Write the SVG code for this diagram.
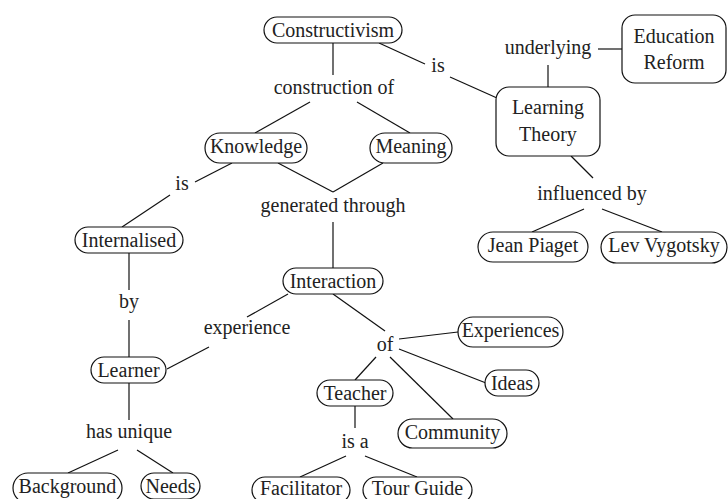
<svg xmlns="http://www.w3.org/2000/svg" width="728" height="499" viewBox="0 0 728 499">
<style>
text{font-family:"Liberation Serif","DejaVu Serif","Times New Roman",serif;font-size:20px;fill:#222;text-anchor:middle}
.pill{fill:#fff;stroke:#111;stroke-width:1.2}
.box{fill:#fff;stroke:#111;stroke-width:1.2}
#connectors line{stroke:#111;stroke-width:1.2}
</style>
<rect width="728" height="499" fill="#fff"/>
<g id="connectors">
<line x1="333" y1="43" x2="333" y2="75"/>
<line x1="379" y1="43" x2="425" y2="64"/>
<line x1="450" y1="77" x2="497" y2="98"/>
<line x1="598" y1="49" x2="622" y2="49"/>
<line x1="548" y1="65" x2="548" y2="87"/>
<line x1="571" y1="156" x2="593" y2="178"/>
<line x1="584" y1="209" x2="532" y2="232"/>
<line x1="602" y1="209" x2="662" y2="232"/>
<line x1="310" y1="102" x2="255" y2="133"/>
<line x1="357" y1="102" x2="410" y2="133"/>
<line x1="278" y1="163" x2="333" y2="192"/>
<line x1="383" y1="163" x2="333" y2="192"/>
<line x1="232" y1="163" x2="195" y2="182"/>
<line x1="170" y1="195" x2="122" y2="227"/>
<line x1="333" y1="222" x2="333" y2="268"/>
<line x1="288" y1="294" x2="247" y2="317"/>
<line x1="209" y1="347" x2="167" y2="369"/>
<line x1="333" y1="294" x2="385" y2="331"/>
<line x1="399" y1="339" x2="458" y2="332"/>
<line x1="399" y1="349" x2="486" y2="383"/>
<line x1="376" y1="357" x2="355" y2="380"/>
<line x1="390" y1="357" x2="453" y2="419"/>
<line x1="355" y1="406" x2="355" y2="428"/>
<line x1="346" y1="456" x2="300" y2="477"/>
<line x1="365" y1="456" x2="417" y2="477"/>
<line x1="129" y1="253" x2="129" y2="290"/>
<line x1="129" y1="320" x2="129" y2="357"/>
<line x1="129" y1="383" x2="129" y2="420"/>
<line x1="118" y1="450" x2="68" y2="473"/>
<line x1="137" y1="450" x2="173" y2="473"/>
</g>
<g id="labels">
<text x="334" y="94">construction of</text>
<text x="438" y="72">is</text>
<text x="548" y="54">underlying</text>
<text x="592" y="200">influenced by</text>
<text x="182" y="190">is</text>
<text x="333" y="212">generated through</text>
<text x="129" y="308">by</text>
<text x="247" y="334">experience</text>
<text x="385" y="351">of</text>
<text x="129" y="438">has unique</text>
<text x="355" y="448">is a</text>
</g>
<g id="constructivism"><rect class="pill" x="264" y="17" width="138" height="26" rx="13"/><text x="333" y="37">Constructivism</text></g>
<g id="education-reform"><rect class="box" x="622" y="15" width="104" height="68" rx="13"/><text x="674" y="43">Education</text><text x="674" y="69">Reform</text></g>
<g id="learning-theory"><rect class="box" x="496" y="87" width="104" height="69" rx="13"/><text x="548" y="114">Learning</text><text x="548" y="141">Theory</text></g>
<g id="knowledge"><rect class="pill" x="205" y="133" width="102" height="30" rx="15"/><text x="256" y="153">Knowledge</text></g>
<g id="meaning"><rect class="pill" x="370" y="133" width="82" height="30" rx="15"/><text x="411" y="153">Meaning</text></g>
<g id="jean-piaget"><rect class="pill" x="478" y="232" width="110" height="30" rx="15"/><text x="533" y="252">Jean Piaget</text></g>
<g id="lev-vygotsky"><rect class="pill" x="601" y="232" width="126" height="31" rx="15.5"/><text x="664" y="252">Lev Vygotsky</text></g>
<g id="internalised"><rect class="pill" x="75" y="227" width="108" height="26" rx="13"/><text x="129" y="247">Internalised</text></g>
<g id="interaction"><rect class="pill" x="283" y="268" width="100" height="26" rx="13"/><text x="333" y="288">Interaction</text></g>
<g id="learner"><rect class="pill" x="91" y="357" width="75" height="26" rx="13"/><text x="128.5" y="377">Learner</text></g>
<g id="experiences"><rect class="pill" x="458" y="317" width="105" height="30" rx="15"/><text x="510.5" y="337">Experiences</text></g>
<g id="ideas"><rect class="pill" x="485" y="370" width="54" height="26" rx="13"/><text x="512" y="390">Ideas</text></g>
<g id="teacher"><rect class="pill" x="317" y="380" width="76" height="26" rx="13"/><text x="355" y="400">Teacher</text></g>
<g id="community"><rect class="pill" x="398" y="419" width="109" height="29" rx="14.5"/><text x="452.5" y="439">Community</text></g>
<g id="background"><rect class="pill" x="13" y="473" width="109" height="30" rx="15"/><text x="67.5" y="493">Background</text></g>
<g id="needs"><rect class="pill" x="141" y="473" width="59" height="26" rx="13"/><text x="170.5" y="493">Needs</text></g>
<g id="facilitator"><rect class="pill" x="252" y="477" width="98" height="26" rx="13"/><text x="301" y="495">Facilitator</text></g>
<g id="tour-guide"><rect class="pill" x="363" y="477" width="109" height="26" rx="13"/><text x="417.5" y="495">Tour Guide</text></g>
</svg>
